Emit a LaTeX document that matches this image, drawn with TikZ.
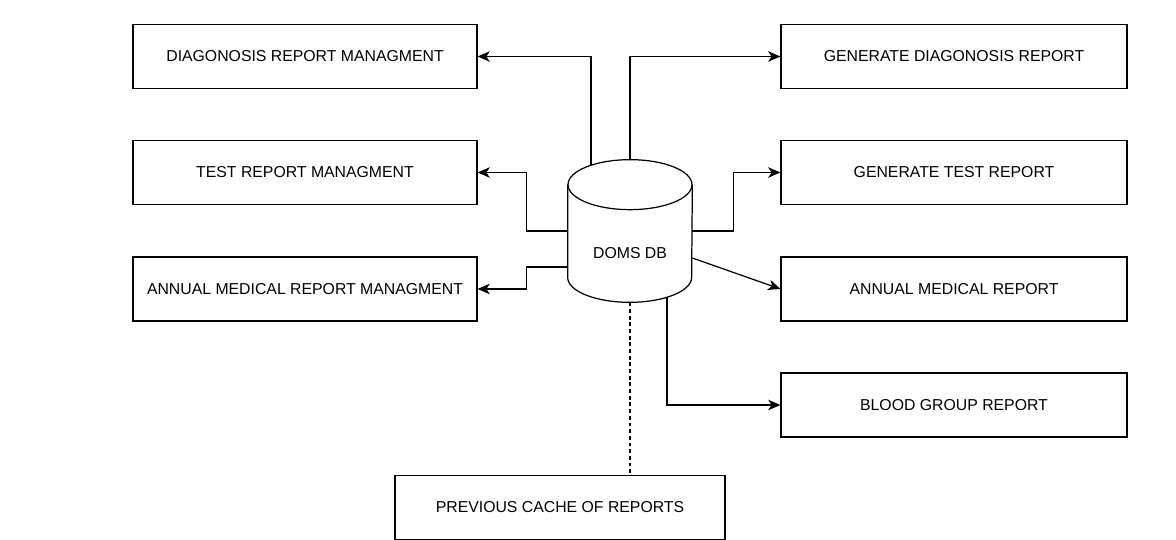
\documentclass[tikz,border=0pt]{standalone}
\usepackage{fontspec}
\setmainfont{Liberation Sans}
\usetikzlibrary{arrows.meta,calc}

\begin{document}
\begin{tikzpicture}[x=0.02cm,y=-0.02cm,
    every node/.style={font=\fontsize{9}{11}\selectfont},
    box/.style={draw,line width=0.7pt,minimum height=1.28cm,inner sep=0pt},
    lbox/.style={box,minimum width=6.88cm},
    rbox/.style={box,minimum width=6.92cm},
    link/.style={draw,line width=0.7pt},
    cyl/.style={line width=0.7pt},
    >={Stealth[length=7pt,width=6pt,inset=2pt]}]
  \useasboundingbox (0,0) rectangle (1176,540);
  % database in the middle
  \node[minimum width=2.48cm,minimum height=2.84cm,inner sep=0pt] (db) at (630,231) {};
  \draw[cyl] ($(db.north west)+(0,25)$) -- ($(db.south west)+(0,-25)$)
    arc[start angle=180,end angle=360,x radius=1.24cm,y radius=0.5cm]
    -- ($(db.north east)+(0,25)$);
  \draw[cyl] ($(db.north)+(0,25)$) ellipse[x radius=1.24cm,y radius=0.5cm];
  \node (dbtext) at (630,253) {DOMS DB};
  % left column
  \node[lbox] (dm) at (305,56.5) {DIAGONOSIS REPORT MANAGMENT};
  \node[lbox] (tm) at (305,172.5) {TEST REPORT MANAGMENT};
  \node[lbox] (am) at (305,289) {ANNUAL MEDICAL REPORT MANAGMENT};
  % right column
  \node[rbox] (gd) at (954,56.5) {GENERATE DIAGONOSIS REPORT};
  \node[rbox] (gt) at (954,172.5) {GENERATE TEST REPORT};
  \node[rbox] (ar) at (954,289) {ANNUAL MEDICAL REPORT};
  \node[rbox] (bg) at (954,405) {BLOOD GROUP REPORT};
  % cache below
  \node[box,minimum width=6.6cm] (pc) at (560,507.5) {PREVIOUS CACHE OF REPORTS};
  % connectors
  \path[link,->] ($(db.north)+(-39,5)$) |- (dm.east);
  \path[link,->] (db.north) |- (gd.west);
  \path[link,->] (db.west) -- ++(-41,0) |- (tm.east);
  \path[link,->] (db.east) -- ++(41,0) |- (gt.west);
  \path[link,->] ($(db.west)+(0,36)$) -- ++(-41,0) |- (am.east);
  \path[link,->] ($(db.east)+(0,27)$) -- (ar.west);
  \path[link,->] ($(db.south)+(37,-5)$) |- (bg.west);
  \path[link,dash pattern=on 2.2pt off 1.6pt] (db.south) -- (db.south |- pc.north);
\end{tikzpicture}
\end{document}
